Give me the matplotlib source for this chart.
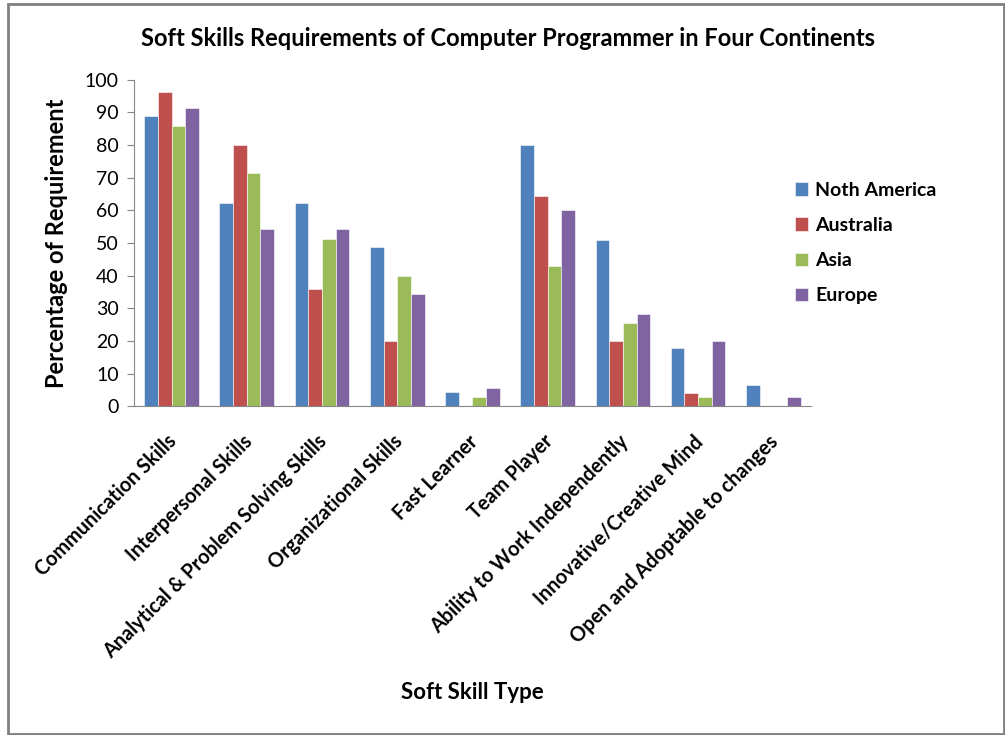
import numpy as np
import matplotlib
matplotlib.use("Agg")
import matplotlib.pyplot as plt
from matplotlib.patches import Rectangle
from matplotlib.transforms import ScaledTranslation

plt.rcParams["font.family"] = ["Lato", "DejaVu Sans"]

# ── Data ──────────────────────────────────────────────────────────────────────
skills = [
    "Communication Skills", "Interpersonal Skills",
    "Analytical & Problem Solving Skills", "Organizational Skills",
    "Fast Learner", "Team Player", "Ability to Work Independently",
    "Innovative/Creative Mind", "Open and Adoptable to changes",
]
regions = ["Noth America", "Australia", "Asia", "Europe"]

north_america = [88.9, 62.2, 62.2, 48.8, 4.3, 80.0, 50.9, 17.8, 6.4]
australia     = [96.1, 80.0, 35.9, 20.0, 0.0, 64.3, 20.0, 4.0, 0.0]
asia          = [85.8, 71.3, 51.2, 40.0, 2.7, 42.9, 25.5, 2.7, 0.0]
europe        = [91.4, 54.4, 54.4, 34.3, 5.5, 60.0, 28.4, 20.0, 2.7]

colors = ["#4F81BD", "#C0504D", "#9BBB59", "#8064A2"]

# ── Figure ────────────────────────────────────────────────────────────────────
fig = plt.figure(figsize=(10.05, 7.35), dpi=100)
ax = fig.add_axes([0.1333, 0.4472, 0.6736, 0.4444])

x = np.arange(len(skills))
width = 1 / 5.5
series = [north_america, australia, asia, europe]
for i, (vals, name, col) in enumerate(zip(series, regions, colors)):
    ax.bar(x + (i - 1.5) * width, vals, width, color=col, label=name,
           edgecolor="white", linewidth=0.4)

ax.set_xlim(-0.5, len(skills) - 0.5)
ax.set_ylim(0, 100)
ax.set_yticks(range(0, 101, 10))
ax.tick_params(axis="y", direction="out", length=5, color="#868686",
               labelsize=14, pad=6)
ax.set_xticks(x)
ax.set_xticklabels(skills, rotation=45, ha="right", rotation_mode="anchor",
                   fontsize=14.3, fontweight="bold")
ax.tick_params(axis="x", length=0, pad=18)
# nudge the slanted category labels a little to the left
shift = ScaledTranslation(-5 / 100, 0, fig.dpi_scale_trans)
for lbl in ax.get_xticklabels():
    lbl.set_transform(lbl.get_transform() + shift)

for side in ["top", "right"]:
    ax.spines[side].set_visible(False)
for side in ["left", "bottom"]:
    ax.spines[side].set_color("#868686")

ax.set_ylabel("Percentage of Requirement", fontsize=17, fontweight="bold",
              labelpad=12)
fig.text(0.47, 0.058, "Soft Skill Type", ha="center", va="center",
         fontsize=16, fontweight="bold")
fig.text(0.505, 0.947, "Soft Skills Requirements of Computer Programmer in Four Continents",
         ha="center", va="center", fontsize=17, fontweight="bold")

leg = ax.legend(loc="center left", bbox_to_anchor=(0.95, 0.5), frameon=False,
                prop={"size": 14, "weight": "bold"}, handlelength=0.7,
                handleheight=0.7, handletextpad=0.35, labelspacing=0.94)

# outer chart border
fig.patches.append(Rectangle((8 / 1005, 1 / 735), 996 / 1005, 730 / 735,
                             transform=fig.transFigure, fill=False,
                             edgecolor="#808080", linewidth=2))

fig.savefig("out.png", dpi=100)
